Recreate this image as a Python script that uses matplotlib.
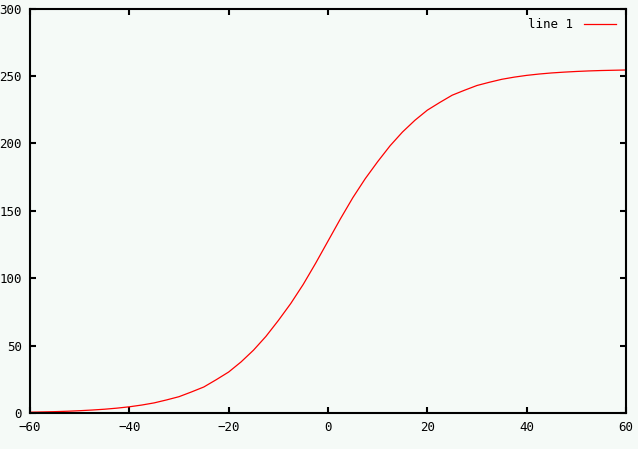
import numpy as np
from matplotlib import pyplot as plt

# значения (шаг 2.5)
x_vals = [-60, -57.5, -55, -52.5, -50, -47.5, -45, -42.5, -40, -37.5, -35, -32.5,
          -30, -27.5, -25, -22.5, -20, -17.5, -15, -12.5, -10, -7.5, -5, -2.5, 0,
          2.5, 5, 7.5, 10, 12.5, 15, 17.5, 20, 22.5, 25, 27.5, 30, 32.5, 35, 37.5,
          40, 42.5, 45, 47.5, 50, 52.5, 55, 57.5, 60]
y_vals = [0.6, 0.8, 1.0, 1.3, 1.7, 2.2, 2.8, 3.6, 4.6, 5.9, 7.5, 9.7,
          12.1, 15.6, 19.3, 24.7, 30.4, 37.9, 46.6, 56.8, 68.6, 81.2, 95.3, 111.0, 127.5,
          144.0, 159.7, 173.8, 186.4, 198.2, 208.4, 217.1, 224.6, 230.3, 235.7, 239.4, 242.9, 245.3, 247.5, 249.1,
          250.4, 251.4, 252.2, 252.8, 253.3, 253.7, 254.0, 254.2, 254.4]
x_ticks = [-60, -40, -20, 0, 20, 40, 60]
y_ticks = [0, 50, 100, 150, 200, 250, 300]

bg = '#f5faf7'
fig = plt.figure(figsize=(6.38, 4.49), dpi=100, facecolor=bg)
ax = fig.add_axes([30 / 638, 36 / 449, 596 / 638, 404.5 / 449])
ax.set_facecolor(bg)

ax.plot(x_vals, y_vals, color='red', linewidth=0.9, label='line 1')

ax.set_xlim(-60, 60)
ax.set_ylim(0, 300)
ax.set_xticks(x_ticks)
ax.set_yticks(y_ticks)
ax.tick_params(direction='in', length=4, width=1.5, top=True, right=True,
               labelsize=9, pad=6)
for lbl in ax.get_xticklabels() + ax.get_yticklabels():
    lbl.set_family('DejaVu Sans Mono')
for s in ax.spines.values():
    s.set_linewidth(1.5)

ax.legend(loc='upper right', frameon=False, markerfirst=False,
          handlelength=2.6, prop={'family': 'DejaVu Sans Mono', 'size': 9},
          borderaxespad=0.4)

plt.savefig('out.png', dpi=100, facecolor=bg)
